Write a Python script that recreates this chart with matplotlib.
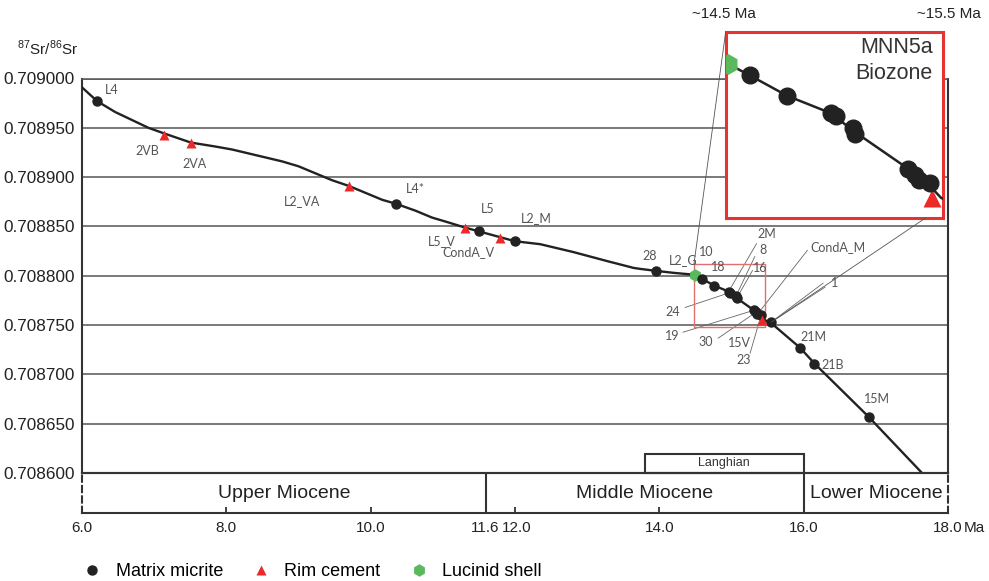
import matplotlib.pyplot as plt
from matplotlib.patches import Rectangle, ConnectionPatch
from matplotlib.lines import Line2D
from matplotlib.transforms import ScaledTranslation

plt.rcParams['font.family'] = ['Liberation Sans', 'DejaVu Sans']
plt.rcParams['mathtext.fontset'] = 'custom'
plt.rcParams['mathtext.rm'] = 'Liberation Sans'

# curva de referência 87Sr/86Sr
curve_age = [6.0, 6.21, 6.46, 6.69, 6.92, 7.15, 7.39, 7.51, 7.85, 8.08, 8.31,
             8.54, 8.77, 9.0, 9.23, 9.46, 9.70, 9.93, 10.16, 10.35, 10.62,
             10.85, 11.08, 11.30, 11.50, 12.0, 12.35, 12.81, 13.27, 13.64,
             13.73, 13.95, 14.19, 14.49, 14.59, 14.76, 14.96, 15.06, 15.31,
             15.41, 15.46, 15.55, 15.95, 16.15, 16.9, 17.64]
curve_sr = [0.708991, 0.708977, 0.708966, 0.708958, 0.708950, 0.708944,
            0.708938, 0.708935, 0.708931, 0.708928, 0.708924, 0.708920,
            0.708916, 0.708911, 0.708904, 0.708897, 0.708891, 0.708884,
            0.708877, 0.708873, 0.708866, 0.708859, 0.708854, 0.708849,
            0.708845, 0.708835, 0.708832, 0.708824, 0.708815, 0.708808,
            0.708807, 0.708805, 0.708803, 0.708801, 0.708797, 0.708790,
            0.708784, 0.708778, 0.708765, 0.708759, 0.708755, 0.708752,
            0.708727, 0.708711, 0.708657, 0.708600]

# amostras
micrite_names = ['L4', 'L4*', 'L5', 'L2_M', '28', '10', '18', '2M', '24', '8',
                 '16', '19', '30', 'CondA_M', '23', '1', '21M', '21B', '15M']
micrite_age = [6.21, 10.35, 11.50, 12.00, 13.95, 14.59, 14.76, 14.96, 14.98,
               15.06, 15.07, 15.31, 15.34, 15.36, 15.41, 15.55, 15.95, 16.15, 16.90]
micrite_sr = [0.708977, 0.708873, 0.708845, 0.708835, 0.708805, 0.708797,
              0.708790, 0.708784, 0.708783, 0.708779, 0.708777, 0.708765,
              0.708763, 0.708761, 0.708760, 0.708753, 0.708727, 0.708711, 0.708657]

cement_names = ['2VB', '2VA', 'L2_VA', 'L5_V', 'CondA_V', '15V']
cement_age = [7.14, 7.51, 9.70, 11.31, 11.79, 15.42]
cement_sr = [0.708943, 0.708935, 0.708891, 0.708848, 0.708838, 0.708755]

shell_names = ['L2_G']
shell_age = [14.49]
shell_sr = [0.708801]

y_ticks = [0.708600, 0.708650, 0.708700, 0.708750, 0.708800, 0.708850,
           0.708900, 0.708950, 0.709000]
x_ticks = [6.0, 8.0, 10.0, 11.6, 12.0, 14.0, 16.0, 18.0]
x_labels = ['6.0', '8.0', '10.0', '11.6', '12.0', '14.0', '16.0', '18.0']
epochs = ['Upper Miocene', 'Middle Miocene', 'Lower Miocene']
epoch_bounds = [6.0, 11.6, 16.0, 18.0]
langhian = [13.8, 16.0]
zoom_age = [14.48, 15.47]
zoom_sr = [0.708748, 0.708812]

# posição dos rótulos (pixels em relação ao ponto)
label_off = {'L4': (15, 11), '2VB': (-17, -16), '2VA': (4, -21), 'L2_VA': (-47, -15),
             'L4*': (19, 15), 'L5_V': (-23, -13), 'L5': (9, 22), 'CondA_V': (-31, -14),
             'L2_M': (21, 23), '28': (-6, 15), 'L2_G': (-12, 15), '10': (4, 27),
             '18': (4, 19), '15V': (-22, -23), '21M': (13, 11), '21B': (18, -1),
             '15M': (8, 18)}
# rótulos com linha de chamada: (texto, início da linha)
leader_off = {'2M': ((38, 58), [(28, 48)]), '8': ((27, 46), [(19, 40)]),
              '16': ((24, 30), [(16, 28)]), '24': ((-57, -19), [(-45, -15)]),
              '19': ((-82, -26), [(-71, -22)]), '30': ((-50, -30), [(-38, -26)]),
              'CondA_M': ((80, 67), [(50, 64)]), '23': ((-17, -45), [(-11, -38)]),
              '1': ((63, 39), [(52, 39), (54, 35)])}

BLACK = '#222222'
RED = '#ec2a2a'
GREEN = '#5cb85c'
GRID = '#555555'
W, H = 989, 581

fig = plt.figure(figsize=(W / 100, H / 100), dpi=100)
ax = fig.add_axes([82 / W, (H - 473) / H, 866 / W, 394.5 / H])
ax.set_xlim(6, 18)
ax.set_ylim(0.7086, 0.7090)
ax.set_xticks([])
ax.set_yticks(y_ticks)
ax.set_yticklabels([f'{v:.6f}' for v in y_ticks])
ax.tick_params(axis='y', length=0, labelsize=12.3, pad=5, labelcolor=BLACK)
ax.yaxis.grid(True, color=GRID, lw=1.1)
for s in ax.spines.values():
    s.set_color('#333333')
    s.set_linewidth(1.5)
ax.spines['top'].set_color(GRID)
ax.spines['top'].set_linewidth(1.1)

ax.plot(curve_age, curve_sr, color=BLACK, lw=1.7, zorder=3, solid_joinstyle='round')
ax.plot(micrite_age, micrite_sr, 'o', ms=6.5, color=BLACK, zorder=4)
ax.plot(cement_age, cement_sr, '^', ms=7.5, color=RED, mec='none', zorder=4)
ax.plot(shell_age, shell_sr, 'h', ms=9, color=GREEN, mec='none', zorder=3.5)

# rótulos das amostras
lab_kw = dict(fontsize=9, color='#555555', family=['Lato', 'DejaVu Sans'],
              ha='center', va='center', textcoords='offset pixels', zorder=6)
all_names = micrite_names + cement_names + shell_names
all_age = micrite_age + cement_age + shell_age
all_sr = micrite_sr + cement_sr + shell_sr
for nome, a, s in zip(all_names, all_age, all_sr):
    if nome in label_off:
        ax.annotate(nome, (a, s), xytext=label_off[nome], **lab_kw)
    elif nome in leader_off:
        txt, linhas = leader_off[nome]
        ax.annotate(nome, (a, s), xytext=txt, **lab_kw)
        for ini in linhas:
            ax.annotate('', (a, s), xytext=ini, textcoords='offset pixels',
                        arrowprops=dict(arrowstyle='-', color='#666666', lw=0.6,
                                        shrinkA=0, shrinkB=0), zorder=2)

# Langhian
lh = 19 * 0.0004 / 394.5
ax.add_patch(Rectangle((langhian[0], 0.7086), langhian[1] - langhian[0], lh,
                       fill=False, ec='#333333', lw=1.5, zorder=3, clip_on=False))
ax.text(sum(langhian) / 2, 0.7086 + lh / 2, 'Langhian', fontsize=9, ha='center',
        va='center', color='#333333')

# janela de zoom
ax.add_patch(Rectangle((zoom_age[0], zoom_sr[0]), zoom_age[1] - zoom_age[0],
                       zoom_sr[1] - zoom_sr[0], fill=False, ec='#e07070', lw=1, zorder=2))

axin = ax.inset_axes([0.7433, 0.6456, 0.2513, 0.4731])
axin.set_xlim(zoom_age)
axin.set_ylim(zoom_sr)
axin.set_xticks([])
axin.set_yticks([])
axin.set_facecolor('white')
for s in axin.spines.values():
    s.set_color('#e53333')
    s.set_linewidth(2.2)
axin.plot(curve_age, curve_sr, color=BLACK, lw=1.8, zorder=3, solid_joinstyle='round')
axin.plot(micrite_age, micrite_sr, 'o', ms=12, color=BLACK, zorder=4)
axin.plot(cement_age, cement_sr, '^', ms=13, color=RED, mec='none', zorder=3.8)
axin.plot(shell_age, shell_sr, 'h', ms=15, color=GREEN, mec='none', zorder=3.5)
axin.text(0.95, 0.97, 'MNN5a\nBiozone', transform=axin.transAxes, ha='right',
          va='top', fontsize=15.5, color='#333333', linespacing=1.3)

fig.add_artist(ConnectionPatch(xyA=(0, 1), coordsA=axin.transAxes,
                               xyB=(zoom_age[0], zoom_sr[1]), coordsB=ax.transData,
                               color='#555555', lw=0.6))
fig.add_artist(ConnectionPatch(xyA=(0.916, 0), coordsA=axin.transAxes,
                               xyB=(micrite_age[15], micrite_sr[15]), coordsB=ax.transData,
                               color='#555555', lw=0.6))
fig.text(724 / W, 1 - 14 / H, '~14.5 Ma', fontsize=11, ha='center', va='center', color=BLACK)
fig.text(949 / W, 1 - 14 / H, '~15.5 Ma', fontsize=11, ha='center', va='center', color=BLACK)

fig.text(17 / W, 1 - 48 / H, r'$^{87}$Sr/$^{86}$Sr', fontsize=11, ha='left',
         va='center', color=BLACK)

# faixa das épocas
band = fig.add_axes([82 / W, (H - 513) / H, 866 / W, 40 / H])
band.set_xlim(6, 18)
band.set_ylim(0, 1)
band.set_yticks([])
band.set_xticks(x_ticks)
band.set_xticklabels(x_labels)
band.tick_params(axis='x', direction='in', length=4, width=1.3, labelsize=11,
                 pad=6, color='#333333', labelcolor=BLACK)
# afastar um pouco 11.6 de 12.0
for tick, dx in zip(band.xaxis.get_major_ticks()[3:5], (-1, 1)):
    lab = tick.label1
    lab.set_transform(lab.get_transform() + ScaledTranslation(dx / 72, 0, fig.dpi_scale_trans))
band.patch.set_alpha(0)
for k in ['top', 'bottom']:
    band.spines[k].set_color('#333333')
    band.spines[k].set_linewidth(1.5)
for k in ['left', 'right']:
    band.spines[k].set_color('#333333')
    band.spines[k].set_linewidth(1.5)
    band.spines[k].set_linestyle((0, (3, 2)))
for b in epoch_bounds[1:-1]:
    band.axvline(b, color='#333333', lw=1.5)
for i, nome in enumerate(epochs):
    band.text((epoch_bounds[i] + epoch_bounds[i + 1]) / 2, 0.5, nome, fontsize=14,
              ha='center', va='center', color=BLACK)
fig.text(964 / W, 1 - 528 / H, 'Ma', fontsize=11, ha='left', va='center', color=BLACK)

# legenda
handles = [Line2D([], [], marker='o', ls='', color=BLACK, ms=6.5, label='Matrix micrite'),
           Line2D([], [], marker='^', ls='', color=RED, mec='none', ms=7.5, label='Rim cement'),
           Line2D([], [], marker='h', ls='', color=GREEN, mec='none', ms=9, label='Lucinid shell')]
fig.legend(handles=handles, loc='center left', bbox_to_anchor=(76 / W, 1 - 572 / H),
           ncol=3, frameon=False, fontsize=13, handlelength=1.0, handletextpad=0.8,
           columnspacing=1.6, borderaxespad=0)

fig.savefig('out.png', dpi=100)
